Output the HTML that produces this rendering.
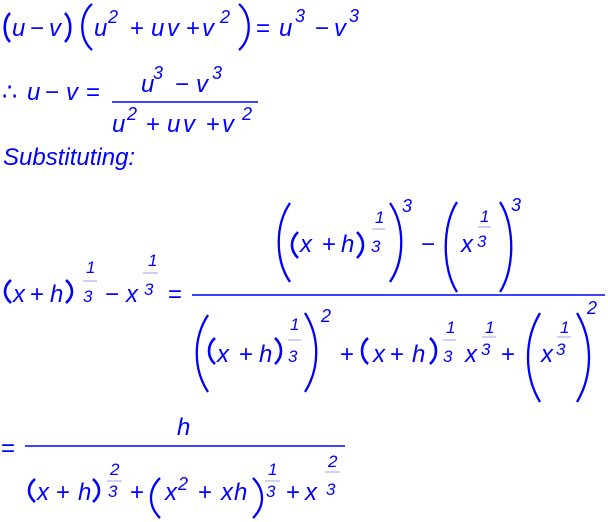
<!DOCTYPE html>
<html><head><meta charset="utf-8"><style>
html,body{margin:0;padding:0;background:#fff;width:608px;height:522px;overflow:hidden}
svg{display:block}
text{font-family:"Liberation Sans",sans-serif;fill:#0000ff}
.i{font-style:italic;font-size:24px}
.o{font-size:24px}
.s{font-style:italic;font-size:18px}
.f{font-style:italic;font-size:17px}
.p{fill:none;stroke:#0000ff;stroke-width:2.3}
.sp{fill:none;stroke:#0000ff;stroke-width:2.6}
.b{stroke:#0000ff;stroke-width:1.6}
.fb{stroke:#a0a0e8;stroke-width:1}
</style></head><body>
<svg width="608" height="522" viewBox="0 0 608 522" xmlns="http://www.w3.org/2000/svg">
<!-- Line 1 -->
<path class="sp" d="M10 13 C3 20 3 35 10 42"/>
<text class="i" x="12" y="36">u</text>
<text class="o" x="30" y="36">−</text>
<text class="i" x="49" y="36">v</text>
<path class="sp" d="M65 13 C72 20 72 35 65 42"/>
<path class="p" d="M92 4 C79 15 79 39 92 50"/>
<text class="i" x="94" y="36">u</text>
<text class="s" x="108" y="23">2</text>
<text class="o" x="130" y="36">+</text>
<text class="i" x="151" y="36">u</text>
<text class="i" x="167" y="36">v</text>
<text class="o" x="186" y="36">+</text>
<text class="i" x="202" y="36">v</text>
<text class="s" x="220" y="23">2</text>
<path class="p" d="M239 4 C252 15 252 39 239 50"/>
<text class="o" x="256" y="36">=</text>
<text class="i" x="279" y="36">u</text>
<text class="s" x="295" y="22">3</text>
<text class="o" x="315" y="36">−</text>
<text class="i" x="334" y="36">v</text>
<text class="s" x="349" y="22">3</text>
<!-- Line 2 -->
<text class="o" x="2" y="100">∴</text>
<text class="i" x="27" y="100">u</text>
<text class="o" x="45" y="100">−</text>
<text class="i" x="66" y="100">v</text>
<text class="o" x="86" y="100">=</text>
<line class="b" x1="112" y1="102" x2="258" y2="102"/>
<text class="i" x="141" y="92">u</text>
<text class="s" x="153" y="79">3</text>
<text class="o" x="175" y="92">−</text>
<text class="i" x="196" y="92">v</text>
<text class="s" x="212" y="79">3</text>
<text class="i" x="112" y="132">u</text>
<text class="s" x="127" y="120">2</text>
<text class="o" x="146" y="132">+</text>
<text class="i" x="167" y="132">u</text>
<text class="i" x="183" y="132">v</text>
<text class="o" x="206" y="132">+</text>
<text class="i" x="222" y="132">v</text>
<text class="s" x="242" y="120">2</text>
<!-- Substituting -->
<text class="i" x="3" y="165">Substituting:</text>
<!-- LHS -->
<path class="sp" d="M11 280 C3 287 3 296 11 303"/>
<text class="i" x="13" y="302">x</text>
<text class="o" x="30" y="302">+</text>
<text class="i" x="50" y="302">h</text>
<path class="sp" d="M66 280 C74 287 74 296 66 303"/>
<text class="f" x="86" y="273">1</text>
<line class="fb" x1="83" y1="281" x2="97" y2="281"/>
<text class="f" x="83" y="302">3</text>
<text class="o" x="105" y="302">−</text>
<text class="i" x="126" y="302">x</text>
<text class="f" x="148" y="266">1</text>
<line class="fb" x1="143" y1="273" x2="158" y2="273"/>
<text class="f" x="144" y="295">3</text>
<text class="o" x="168" y="302">=</text>
<line class="b" x1="192" y1="295" x2="605" y2="295"/>
<!-- Numerator -->
<path class="p" d="M290 203 C275 225 275 260 290 282"/>
<path class="sp" d="M298 232 C290 240 290 250 298 258"/>
<text class="i" x="300" y="252">x</text>
<text class="o" x="322" y="252">+</text>
<text class="i" x="341" y="252">h</text>
<path class="sp" d="M357 232 C365 240 365 250 357 258"/>
<text class="f" x="375" y="223">1</text>
<line class="fb" x1="372" y1="229" x2="385" y2="229"/>
<text class="f" x="371" y="252">3</text>
<path class="p" d="M390 203 C405 225 405 260 390 282"/>
<text class="s" x="402" y="212">3</text>
<text class="o" x="421" y="252">−</text>
<path class="p" d="M457 202 C442 225 442 269 457 292"/>
<text class="i" x="461" y="252">x</text>
<text class="f" x="480" y="222">1</text>
<line class="fb" x1="478" y1="227" x2="491" y2="227"/>
<text class="f" x="477" y="247">3</text>
<path class="p" d="M500 202 C515 225 515 269 500 292"/>
<text class="s" x="511" y="211">3</text>
<!-- Denominator -->
<path class="p" d="M208 315 C193 338 193 369 208 392"/>
<path class="sp" d="M215 338 C207 345 207 357 215 364"/>
<text class="i" x="217" y="362">x</text>
<text class="o" x="239" y="362">+</text>
<text class="i" x="259" y="362">h</text>
<path class="sp" d="M275 338 C283 345 283 357 275 364"/>
<text class="f" x="290" y="330">1</text>
<line class="fb" x1="288" y1="340" x2="301" y2="340"/>
<text class="f" x="288" y="362">3</text>
<path class="p" d="M305 313 C320 337 320 368 305 392"/>
<text class="s" x="321" y="322">2</text>
<text class="o" x="340" y="362">+</text>
<path class="sp" d="M368 338 C360 345 360 357 368 364"/>
<text class="i" x="373" y="362">x</text>
<text class="o" x="390" y="362">+</text>
<text class="i" x="412" y="362">h</text>
<path class="sp" d="M430 338 C438 345 438 357 430 364"/>
<text class="f" x="446" y="333">1</text>
<line class="fb" x1="443" y1="340" x2="456" y2="340"/>
<text class="f" x="443" y="362">3</text>
<text class="i" x="465" y="362">x</text>
<text class="f" x="485" y="333">1</text>
<line class="fb" x1="482" y1="337" x2="496" y2="337"/>
<text class="f" x="481" y="355">3</text>
<text class="o" x="501" y="362">+</text>
<path class="p" d="M540 313 C524 340 524 375 540 402"/>
<text class="i" x="541" y="362">x</text>
<text class="f" x="560" y="333">1</text>
<line class="fb" x1="557" y1="337" x2="571" y2="337"/>
<text class="f" x="556" y="355">3</text>
<path class="p" d="M577 313 C593 340 593 375 577 402"/>
<text class="s" x="587" y="314">2</text>
<!-- Bottom -->
<text class="o" x="1" y="456">=</text>
<line class="b" x1="25" y1="446" x2="345" y2="446"/>
<text class="i" x="177" y="435">h</text>
<path class="sp" d="M35 479 C27 486 27 495 35 502"/>
<text class="i" x="37" y="500">x</text>
<text class="o" x="56" y="500">+</text>
<text class="i" x="78" y="500">h</text>
<path class="sp" d="M93 479 C101 486 101 495 93 502"/>
<text class="f" x="110" y="475">2</text>
<line class="fb" x1="107" y1="481" x2="122" y2="481"/>
<text class="f" x="108" y="497">3</text>
<text class="o" x="130" y="500">+</text>
<path class="p" d="M160 478 C148 490 148 506 160 518"/>
<text class="i" x="165" y="500">x</text>
<text class="s" x="178" y="490">2</text>
<text class="o" x="198" y="500">+</text>
<text class="i" x="221" y="500">x</text>
<text class="i" x="234" y="500">h</text>
<path class="p" d="M253 478 C265 490 265 506 253 518"/>
<text class="f" x="268" y="475">1</text>
<line class="fb" x1="265" y1="481" x2="280" y2="481"/>
<text class="f" x="266" y="497">3</text>
<text class="o" x="286" y="500">+</text>
<text class="i" x="305" y="500">x</text>
<text class="f" x="328" y="467">2</text>
<line class="fb" x1="325" y1="472" x2="340" y2="472"/>
<text class="f" x="326" y="495">3</text>
</svg>
</body></html>
